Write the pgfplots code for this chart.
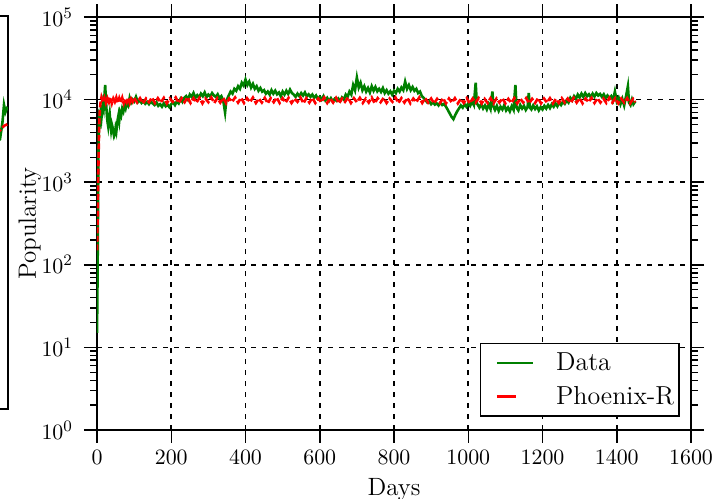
\documentclass[border=0pt]{standalone}
\usepackage{pgfplots}
\pgfplotsset{compat=1.18}
\definecolor{mplgreen}{rgb}{0,0.5,0}

\pgfplotstableread{
day pop
0 15
1 40
2 150
3 700
4 2500
5 4500
6 6000
8 5500
10 7000
12 6000
14 7500
16 9000
18 8000
20 11000
22 15000
24 10000
26 7000
28 5500
30 4800
32 6000
34 6800
36 5200
38 4300
40 5000
42 4600
44 4000
46 3600
48 3800
50 4500
52 4100
54 5000
56 5800
58 6500
60 5600
62 7000
65 6400
68 7800
71 7200
74 8500
77 7800
80 9000
84 8400
88 10500
92 9200
96 10000
100 9500
105 10800
110 9300
115 9800
120 9100
125 9600
130 8900
135 9400
140 8800
145 9500
150 9000
155 8600
160 9300
165 8400
170 8800
175 8200
180 9000
185 8300
190 8700
195 8100
200 8800
205 9300
210 8600
215 9500
220 9000
225 10200
230 9400
235 10500
240 11000
245 10000
250 11500
255 10800
260 12000
265 10500
270 11300
275 10600
280 11800
285 11000
290 12200
295 10700
300 11500
305 10900
310 12000
315 11200
320 10800
325 11600
330 10400
335 11000
340 9800
345 7000
348 9500
352 10500
356 11500
360 12500
365 11800
370 13500
375 12800
380 14500
385 13500
390 16000
395 14800
400 17500
405 15000
410 16500
415 14000
420 15500
425 13500
430 14500
435 12800
440 13800
445 12500
450 13000
455 11800
460 12500
465 11500
470 13000
475 11800
480 12800
485 11600
490 12200
495 11000
500 12500
505 11500
510 12800
515 11700
520 13200
525 12000
530 11500
535 10800
540 11800
545 11000
550 12000
555 11200
560 12200
565 11000
570 11600
575 10800
580 11500
585 10500
590 11200
595 10200
600 10800
605 10000
610 11000
615 9800
620 10500
625 9600
630 10400
635 9500
640 10200
645 9700
650 10300
655 9600
660 10600
665 10000
670 11500
675 10800
680 12500
685 11500
690 15000
695 13000
700 18500
705 14000
710 16000
715 13000
720 14500
725 12500
730 13800
735 12200
740 14500
745 12800
750 14200
755 12600
760 13500
765 12400
770 13800
775 12000
780 13000
785 11800
790 12600
795 11500
800 12800
805 12000
810 13500
815 12500
820 14000
825 13000
830 16500
835 13500
840 15000
845 13000
850 14200
855 12800
860 13500
865 12000
870 12500
875 11000
880 10500
885 9800
890 9200
895 9500
900 8800
905 9300
910 8700
915 9000
920 8500
925 9200
930 8600
935 8900
940 8200
945 7500
950 6800
955 6200
960 5800
965 6500
970 7200
975 7800
980 8500
985 8000
990 8800
995 8200
1000 9000
1005 8400
1010 9500
1015 8600
1020 16000
1023 9000
1027 8500
1030 8000
1035 8800
1040 7800
1045 8500
1050 7600
1055 8800
1060 7700
1065 12500
1068 8200
1072 7500
1077 8400
1082 7300
1087 8200
1092 7600
1097 8600
1102 7400
1107 8000
1112 7200
1117 8300
1122 7500
1127 15000
1130 8000
1135 7400
1140 8600
1145 7800
1150 8400
1155 7500
1160 8200
1163 12000
1166 8000
1170 7600
1175 8500
1180 7700
1185 8300
1190 7400
1195 8100
1200 7600
1205 8400
1210 7800
1215 8600
1220 7900
1225 8800
1230 8200
1235 9000
1240 8300
1245 9200
1250 8600
1255 9400
1260 8900
1265 9800
1270 9200
1275 10500
1280 9800
1285 11000
1290 10200
1295 11500
1300 10600
1305 11800
1310 10800
1315 12000
1320 11000
1325 11600
1330 10700
1335 11800
1340 10900
1345 12000
1350 11200
1355 11700
1360 10800
1365 11600
1370 10500
1375 11200
1380 10400
1385 11000
1390 9800
1395 12500
1400 9500
1405 10500
1410 8800
1415 10200
1420 8500
1425 11000
1430 14500
1433 9200
1437 8600
1441 10000
1445 8800
1450 9500
}\datatable

\pgfplotstableread{
day pop
0 150
2 400
3 1000
5 3000
6 5000
8 8000
10 9500
12 10600
16 9200
20 10500
24 9100
28 10400
32 9300
36 10700
40 9000
44 10300
48 9400
52 10600
56 9100
60 10400
64 9200
68 10500
72 9000
76 10300
80 9300
84 10600
88 9100
92 10200
96 9400
100 10500
108 9200
116 10400
124 9000
132 10300
140 9300
148 10600
156 9100
164 10400
172 9200
180 10500
188 9000
196 10300
204 9400
212 10600
220 9100
228 10400
236 9300
244 10700
252 9100
260 10400
268 9200
276 10500
284 9000
292 10300
300 9300
308 10600
316 9100
324 10400
332 9200
340 10500
348 9000
356 10300
364 9400
372 10600
380 9200
388 10500
396 9100
404 10400
412 9300
420 10600
428 9100
436 10300
444 9200
452 10500
460 9000
468 10400
476 9300
484 10600
492 9100
500 10400
508 9200
516 10500
524 9100
532 10300
540 9400
548 10600
556 9000
564 10400
572 9200
580 10500
588 9100
596 10300
604 9300
612 10600
620 9100
628 10400
636 9200
644 10500
652 9000
660 10300
668 9400
676 10600
684 9100
692 10400
700 9300
708 10500
716 9100
724 10300
732 9200
740 10600
748 9000
756 10400
764 9300
772 10500
780 9100
788 10300
796 9400
804 10600
812 9100
820 10400
828 9200
836 10500
844 9000
852 10300
860 9300
868 10600
876 9100
884 10400
892 9200
900 10300
908 9000
916 10200
924 9100
932 10400
940 9000
948 10300
956 9200
964 10400
972 9000
980 10200
988 9100
996 10400
1004 9000
1012 10300
1020 9200
1028 10400
1036 9000
1044 10200
1052 9100
1060 10400
1068 9000
1076 10300
1084 9200
1092 10400
1100 9000
1108 10200
1116 9100
1124 10400
1132 9000
1140 10300
1148 9200
1156 10400
1164 9000
1172 10200
1180 9100
1188 10400
1196 9000
1204 10300
1212 9200
1220 10400
1228 9000
1236 10200
1244 9100
1252 10400
1260 9200
1268 10300
1276 9100
1284 10500
1292 9200
1300 10400
1308 9000
1316 10300
1324 9300
1332 10500
1340 9100
1348 10400
1356 9200
1364 10300
1372 9100
1380 10500
1388 9200
1396 10400
1404 9000
1412 10300
1420 9200
1428 10400
1436 9000
1444 10200
1450 9300
}\modeltable

\pgfplotstableread{
day pop
96.0 2200
97.5 2500
98.4 2700
98.9 4500
99.2 7400
99.5 6000
99.9 7000
}\leftdata

\pgfplotstableread{
day pop
96.0 3000
97.5 3300
98.4 3500
99.2 4000
99.9 4200
}\leftmodel

\begin{document}
\begin{tikzpicture}
% sliver of the neighbouring panel on the left
\begin{axis}[
  at={(-44.5pt,10.5pt)}, anchor=south east,
  scale only axis, width=250pt, height=196.5pt,
  xmin=0, xmax=100, ymode=log, ymin=1, ymax=1e5,
  xtick=\empty, ytick=\empty, minor ytick={},
  axis line style={line width=0.75pt},
]
\addplot[mplgreen, line width=1.3pt] table[x=day, y=pop] {\leftdata};
\addplot[red, line width=1.3pt, dash pattern=on 3pt off 1.2pt] table[x=day, y=pop] {\leftmodel};
\end{axis}

\begin{axis}[
  at={(0pt,0pt)}, anchor=south west,
  scale only axis, width=297pt, height=206.5pt,
  xmin=0, xmax=1600, ymode=log, ymin=1, ymax=1e5,
  xtick={0,200,...,1600},
  ytick={1,10,100,1000,10000,100000},
  /pgf/number format/set thousands separator={},
  tick align=outside,
  major tick length=6.5pt, minor tick length=3.3pt,
  every tick/.style={black, line width=0.75pt},
  axis line style={line width=0.75pt},
  grid=major,
  major grid style={black, line width=0.8pt, dash pattern=on 2.5pt off 3pt},
  tick label style={font=\fontsize{11}{13}\selectfont},
  yticklabel style={xshift=-2pt},
  xlabel={Days}, ylabel={Popularity},
  every axis x label/.style={at={(axis description cs:0.5,-0.143)}, anchor=center,
    font=\fontsize{12.5}{15}\selectfont},
  every axis y label/.style={at={(axis description cs:-0.113,0.5)}, rotate=90, anchor=center,
    font=\fontsize{12.5}{15}\selectfont},
  legend style={
    at={(axis description cs:1,0)}, anchor=south east,
    xshift=-5.5pt, yshift=6.5pt,
    draw=black, line width=0.8pt, fill=white,
    font=\fontsize{13}{15}\selectfont,
    inner xsep=0.5pt, inner ysep=2.5pt, row sep=2.5pt,
  },
  legend cell align=left,
]
\addplot[mplgreen, line width=1.3pt,
  legend image code/.code={\draw[mplgreen, line width=1pt, solid] (7pt,0pt) -- (25pt,0pt); \path (0pt,0pt) (34pt,0pt);}]
  table[x=day, y=pop] {\datatable};
\addplot[red, line width=1.3pt, dash pattern=on 3pt off 1.2pt,
  legend image code/.code={\draw[red, line width=1.2pt, solid] (7pt,0pt) -- (16.5pt,0pt); \path (0pt,0pt) (34pt,0pt);}]
  table[x=day, y=pop] {\modeltable};
\legend{Data, Phoenix-R}
\end{axis}
\pgfresetboundingbox
\useasboundingbox (-48.5pt,-34pt) rectangle (312pt,215pt);
\end{tikzpicture}
\end{document}
